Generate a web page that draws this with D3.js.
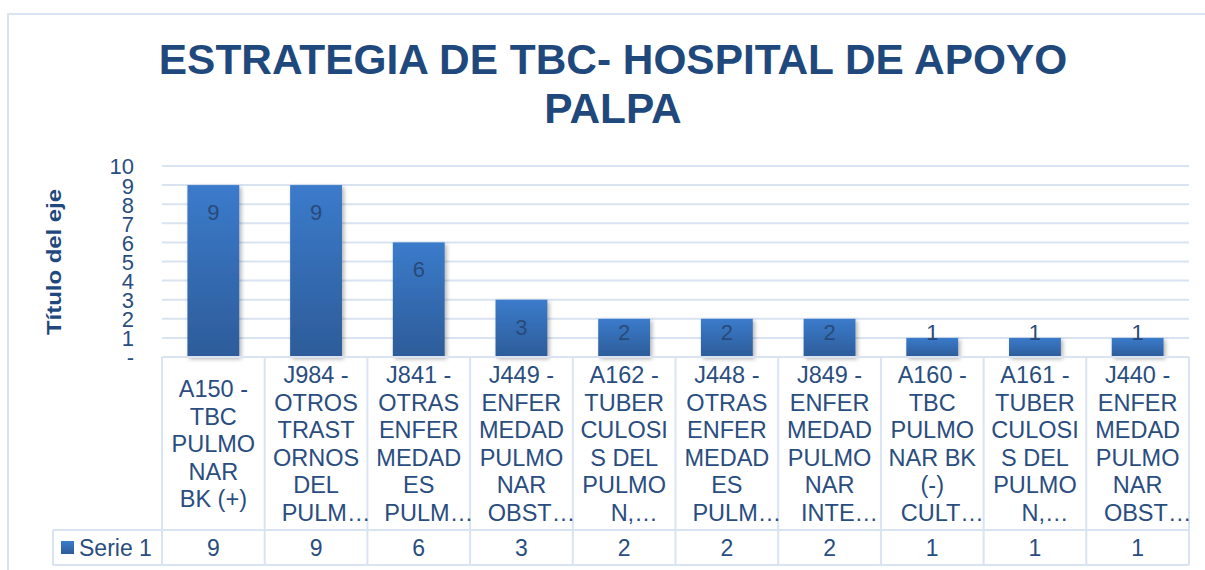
<!DOCTYPE html>
<html>
<head>
<meta charset="utf-8">
<script src="https://cdn.jsdelivr.net/npm/d3@7"></script>
<style>
  body { margin: 0; background: #fff; }
  svg { display: block; font-family: "Liberation Sans", Arial, sans-serif; }
</style>
</head>
<body>
<svg width="1205" height="570"></svg>
<script>
// data
const title = ["ESTRATEGIA DE TBC- HOSPITAL DE APOYO", "PALPA"];
const seriesName = "Serie 1";
const categories = [
  "A150 -\nTBC\nPULMO\nNAR\nBK (+)",
  "J984 -\nOTROS\nTRAST\nORNOS\nDEL\nPULM…",
  "J841 -\nOTRAS\nENFER\nMEDAD\nES\nPULM…",
  "J449 -\nENFER\nMEDAD\nPULMO\nNAR\nOBST…",
  "A162 -\nTUBER\nCULOSI\nS DEL\nPULMO\nN,…",
  "J448 -\nOTRAS\nENFER\nMEDAD\nES\nPULM…",
  "J849 -\nENFER\nMEDAD\nPULMO\nNAR\nINTE…",
  "A160 -\nTBC\nPULMO\nNAR BK\n(-)\nCULT…",
  "A161 -\nTUBER\nCULOSI\nS DEL\nPULMO\nN,…",
  "J440 -\nENFER\nMEDAD\nPULMO\nNAR\nOBST…"
];
const values = [9, 9, 6, 3, 2, 2, 2, 1, 1, 1];
const yTicks = [0, 1, 2, 3, 4, 5, 6, 7, 8, 9, 10];

const navy = "#1f497d";
const textBlue = "#2a4d7f";
const lineCol = "#d9e3f2";

const svg = d3.select("svg");

// plot geometry
const plotLeft = 162, plotRight = 1189, plotTop = 166, plotBottom = 357;
const labelRowBottom = 530, valueRowBottom = 565, legendLeft = 53;

const x = d3.scaleBand().domain(d3.range(categories.length)).range([plotLeft, plotRight]).padding(0);
const y = d3.scaleLinear().domain([0, 10]).range([plotBottom, plotTop]);

const defs = svg.append("defs");
const grad = defs.append("linearGradient").attr("id", "barGrad")
  .attr("x1", 0).attr("y1", 0).attr("x2", 0).attr("y2", 1);
grad.append("stop").attr("offset", "0%").attr("stop-color", "#3b7bcb");
grad.append("stop").attr("offset", "100%").attr("stop-color", "#2d5c99");

const shadow = defs.append("filter").attr("id", "shadow")
  .attr("x", "-20%").attr("y", "-20%").attr("width", "150%").attr("height", "150%");
shadow.append("feDropShadow").attr("dx", 2).attr("dy", 2).attr("stdDeviation", 2)
  .attr("flood-color", "#000").attr("flood-opacity", 0.3);

// chart frame (left + top edges visible)
svg.append("path")
  .attr("d", "M8,575 L8,14 L1210,14")
  .attr("fill", "none").attr("stroke", lineCol).attr("stroke-width", 2);

// title
svg.append("g").selectAll("text")
  .data(title)
  .enter().append("text")
  .attr("x", 613)
  .attr("y", (d, i) => 74 + i * 49)
  .attr("text-anchor", "middle")
  .attr("font-size", 42.4)
  .attr("font-weight", "bold")
  .attr("fill", navy)
  .text(d => d);

// gridlines
svg.append("g").selectAll("line")
  .data(yTicks.filter(d => d > 0))
  .enter().append("line")
  .attr("x1", plotLeft).attr("x2", plotRight)
  .attr("y1", d => y(d)).attr("y2", d => y(d))
  .attr("stroke", lineCol).attr("stroke-width", 2);

// y axis labels (crowded, as in the original)
const yAxis = d3.axisLeft(y).tickValues(yTicks).tickSize(0).tickPadding(0)
  .tickFormat(d => d === 0 ? "-" : d);
const yg = svg.append("g").attr("transform", "translate(134,0)").call(yAxis);
yg.select(".domain").remove();
yg.selectAll("text")
  .attr("font-size", 22)
  .attr("font-family", "Liberation Sans, Arial, sans-serif")
  .attr("fill", textBlue)
  .attr("dy", "0.36em");

// axis title
svg.append("text")
  .attr("transform", "translate(61,262) rotate(-90)")
  .attr("text-anchor", "middle")
  .attr("font-size", 19.5)
  .attr("font-weight", "bold")
  .attr("fill", navy)
  .attr("textLength", 146)
  .attr("lengthAdjust", "spacingAndGlyphs")
  .text("Título del eje");

// bars
const barW = x.bandwidth() * 0.505;
svg.append("g").selectAll("rect")
  .data(values)
  .enter().append("rect")
  .attr("x", (d, i) => x(i) + (x.bandwidth() - barW) / 2)
  .attr("y", d => y(d))
  .attr("width", barW)
  .attr("height", d => y(0) - y(d))
  .attr("fill", "url(#barGrad)")
  .attr("filter", "url(#shadow)");

// data labels (inside end)
svg.append("g").selectAll("text")
  .data(values)
  .enter().append("text")
  .attr("x", (d, i) => x(i) + x.bandwidth() / 2)
  .attr("y", d => Math.min(y(d) + 27, y(0) - 25))
  .attr("dy", "0.36em")
  .attr("text-anchor", "middle")
  .attr("font-size", 22)
  .attr("fill", "#284a7a")
  .text(d => d);

// data table lines
const tbl = svg.append("g").attr("stroke", lineCol).attr("stroke-width", 2);
tbl.append("line").attr("x1", plotLeft).attr("x2", plotRight).attr("y1", plotBottom).attr("y2", plotBottom);
tbl.append("line").attr("x1", legendLeft).attr("x2", plotRight).attr("y1", labelRowBottom).attr("y2", labelRowBottom);
tbl.append("line").attr("x1", legendLeft).attr("x2", plotRight).attr("y1", valueRowBottom).attr("y2", valueRowBottom);
tbl.append("line").attr("x1", legendLeft).attr("x2", legendLeft).attr("y1", labelRowBottom).attr("y2", valueRowBottom);
tbl.selectAll("line.sep")
  .data(d3.range(categories.length + 1))
  .enter().append("line")
  .attr("class", "sep")
  .attr("x1", i => plotLeft + i * x.bandwidth()).attr("x2", i => plotLeft + i * x.bandwidth())
  .attr("y1", plotBottom).attr("y2", valueRowBottom);

// category labels, wrapped like the original; cut-off lines sit a bit right
const lineH = 27.5;
const midY = (plotBottom + labelRowBottom) / 2;
const cat = svg.append("g").selectAll("text")
  .data(categories)
  .enter().append("text")
  .attr("text-anchor", "middle")
  .attr("font-size", 23.5)
  .attr("fill", textBlue);
cat.each(function(d, i) {
  const lines = d.split("\n");
  const y0 = midY - (lines.length - 1) * lineH / 2 + 8.5;
  d3.select(this).selectAll("tspan")
    .data(lines)
    .enter().append("tspan")
    .attr("x", l => x(i) + x.bandwidth() / 2 + (l.endsWith("…") ? 10 : 0))
    .attr("y", (l, j) => y0 + j * lineH)
    .text(l => l);
});

// value row
svg.append("g").selectAll("text")
  .data(values)
  .enter().append("text")
  .attr("x", (d, i) => x(i) + x.bandwidth() / 2)
  .attr("y", 556)
  .attr("text-anchor", "middle")
  .attr("font-size", 23)
  .attr("fill", textBlue)
  .text(d => d);

// legend key + series name
svg.append("rect")
  .attr("x", 61).attr("y", 541).attr("width", 13).attr("height", 13)
  .attr("fill", "url(#barGrad)");
svg.append("text")
  .attr("x", 79).attr("y", 556)
  .attr("font-size", 23)
  .attr("fill", textBlue)
  .text(seriesName);
</script>
</body>
</html>
